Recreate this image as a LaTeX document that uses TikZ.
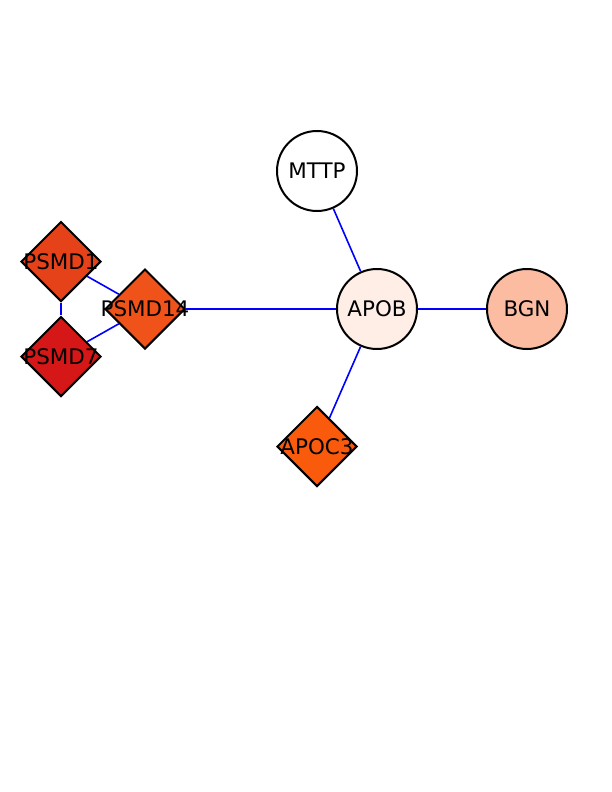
\documentclass[tikz,border=0pt]{standalone}
\usepackage{fontspec}
\setmainfont{DejaVu Sans}
\usetikzlibrary{shapes.geometric}
\definecolor{psmdone}{HTML}{E6421A}
\definecolor{psmdseven}{HTML}{D61717}
\definecolor{psmdfourteen}{HTML}{F0531A}
\definecolor{apocthree}{HTML}{F95A0C}
\definecolor{apob}{HTML}{FEEEE6}
\definecolor{bgn}{HTML}{FCBCA2}
\begin{document}
\begin{tikzpicture}[x=1bp, y=-1bp,
  genefont/.style={font=\fontsize{21.5}{25}\selectfont},
  gene/.style={draw=black, line width=2bp, genefont},
  genecircle/.style={gene, circle, minimum size=80bp, inner sep=0pt},
  genediamond/.style={gene, diamond, minimum size=80bp, inner sep=0pt},
  link/.style={draw=blue, line width=1.6bp}]
\useasboundingbox (0,0) rectangle (612,792);
\fill[white] (0,0) rectangle (612,792);
%
\draw (61,261.5) node[genediamond, fill=psmdone, label={[genefont]center:PSMD1}](psmd1){};
\draw (61,356.5) node[genediamond, fill=psmdseven, label={[genefont]center:PSMD7}](psmd7){};
\draw (145,309) node[genediamond, fill=psmdfourteen, label={[genefont]center:PSMD14}](psmd14){};
%
\draw (317,171) node[genecircle, fill=white](mttp){MTTP};
\draw (377,309) node[genecircle, fill=apob](apob){APOB};
\draw (527,309) node[genecircle, fill=bgn](bgn){BGN};
\draw (317,446.5) node[genediamond, fill=apocthree, label={[genefont]center:APOC3}](apoc3){};
%
\draw[link] (psmd1) -- (psmd7);
\draw[link] (psmd1) -- (psmd14);
\draw[link] (psmd7) -- (psmd14);
\draw[link] (psmd14) -- (apob);
%
\draw[link] (apob) -- (mttp);
\draw[link] (apob) -- (bgn);
\draw[link] (apob) -- (apoc3);
\end{tikzpicture}
\end{document}
